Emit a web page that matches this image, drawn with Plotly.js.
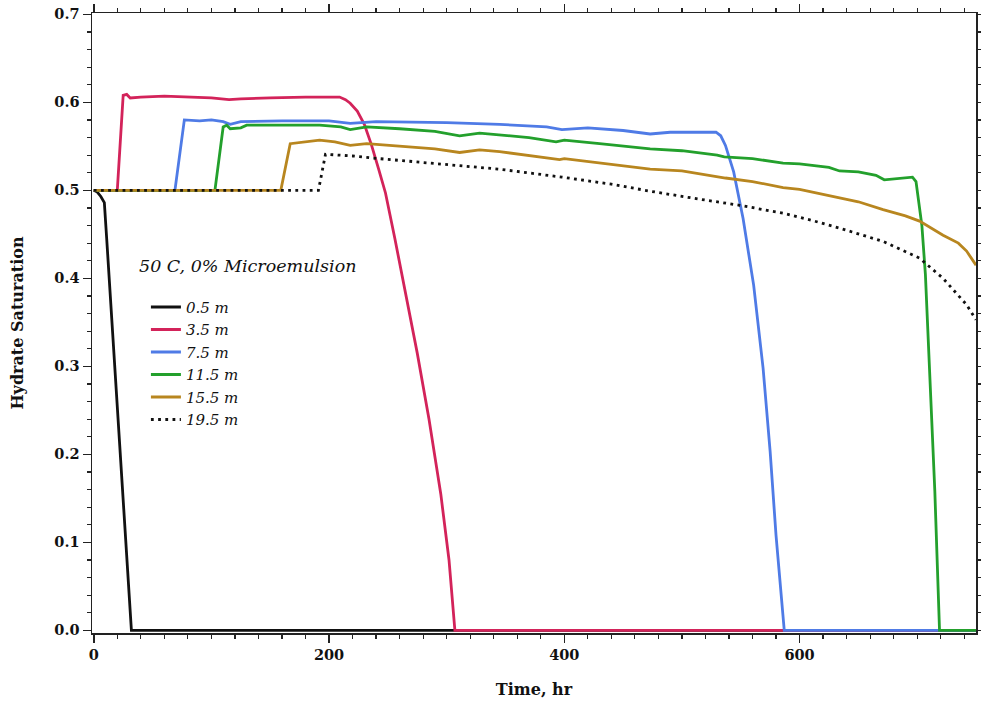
<!DOCTYPE html>
<html>
<head>
<meta charset="utf-8">
<script src="https://cdn.plot.ly/plotly-3.0.1.min.js"></script>
<style>html,body{margin:0;padding:0;background:#fff;}#chart{width:981px;height:704px;}</style>
</head>
<body>
<div id="chart"></div>
<script>
// Series names
const seriesNames = ["0.5 m", "3.5 m", "7.5 m", "11.5 m", "15.5 m", "19.5 m"];
const chartNote = "50 C, 0% Microemulsion";
const xTitle = "Time, hr";
const yTitle = "Hydrate Saturation";
const xTickVals = [0, 200, 400, 600];
const yTickVals = [0.0, 0.1, 0.2, 0.3, 0.4, 0.5, 0.6, 0.7];

// 0.5 m
const t05 = [0, 3, 6, 9, 11, 32, 750];
const s05 = [0.5, 0.498, 0.493, 0.486, 0.445, 0.0, 0.0];

// 3.5 m
const t35 = [0, 20, 25, 28, 31, 40, 60, 80, 100, 115, 125, 150, 180, 209, 214, 218, 224, 230, 236, 242, 248, 256, 265, 275, 285, 295, 302, 307, 750];
const s35 = [0.5, 0.5, 0.608, 0.609, 0.605, 0.606, 0.607, 0.606, 0.605, 0.603, 0.604, 0.605, 0.606, 0.606, 0.603, 0.599, 0.590, 0.575, 0.552, 0.525, 0.497, 0.445, 0.385, 0.315, 0.240, 0.155, 0.080, 0.0, 0.0];

// 7.5 m
const t75 = [0, 69, 77, 90, 100, 110, 116, 125, 160, 200, 218, 240, 300, 345, 385, 398, 420, 450, 473, 490, 515, 529, 533, 537, 544, 552, 561, 569, 575, 580, 587, 750];
const s75 = [0.5, 0.5, 0.580, 0.579, 0.580, 0.578, 0.575, 0.578, 0.579, 0.579, 0.576, 0.578, 0.577, 0.575, 0.572, 0.569, 0.571, 0.568, 0.564, 0.566, 0.566, 0.566, 0.562, 0.551, 0.521, 0.468, 0.392, 0.298, 0.203, 0.108, 0.0, 0.0];

// 11.5 m
const t115 = [0, 103, 110, 113, 116, 125, 130, 160, 192, 210, 218, 232, 260, 290, 311, 328, 345, 370, 393, 400, 430, 462, 473, 500, 530, 536, 560, 586, 600, 625, 634, 650, 665, 672, 685, 696, 699, 701, 704, 707, 711, 715, 719, 750];
const s115 = [0.5, 0.5, 0.572, 0.574, 0.570, 0.571, 0.574, 0.574, 0.574, 0.572, 0.569, 0.572, 0.570, 0.567, 0.562, 0.565, 0.563, 0.560, 0.555, 0.557, 0.553, 0.549, 0.547, 0.545, 0.540, 0.538, 0.536, 0.531, 0.530, 0.526, 0.522, 0.521, 0.517, 0.512, 0.514, 0.515, 0.510, 0.491, 0.460, 0.404, 0.271, 0.158, 0.0, 0.0];

// 15.5 m
const t155 = [0, 159, 167, 180, 192, 205, 218, 232, 260, 290, 311, 328, 345, 370, 396, 400, 430, 462, 473, 500, 537, 560, 586, 600, 634, 650, 671, 690, 702, 722, 735, 742, 750];
const s155 = [0.5, 0.5, 0.553, 0.555, 0.557, 0.555, 0.551, 0.553, 0.550, 0.547, 0.543, 0.546, 0.544, 0.540, 0.535, 0.536, 0.531, 0.526, 0.524, 0.522, 0.514, 0.510, 0.503, 0.501, 0.492, 0.487, 0.478, 0.471, 0.465, 0.449, 0.440, 0.431, 0.415];

// 19.5 m
const t195 = [0, 191, 197, 220, 243, 280, 328, 345, 398, 440, 473, 510, 549, 586, 610, 634, 671, 702, 722, 742, 750];
const s195 = [0.5, 0.5, 0.541, 0.539, 0.536, 0.532, 0.526, 0.524, 0.515, 0.507, 0.499, 0.491, 0.483, 0.474, 0.466, 0.457, 0.442, 0.423, 0.400, 0.370, 0.353];

const allT = [t05, t35, t75, t115, t155, t195];
const allS = [s05, s35, s75, s115, s155, s195];
const colors = ["#111111", "#d3235a", "#4f7be6", "#23a02c", "#b8861f", "#111111"];
const dashes = ["solid", "solid", "solid", "solid", "solid", "2.8px,4.4px"];

const traces = seriesNames.map((name, i) => ({
  x: allT[i], y: allS[i], name: name, type: "scatter", mode: "lines",
  line: {color: colors[i], width: 2.8, dash: dashes[i]}
}));

const serif = "DejaVu Serif";
const axisCommon = {
  showline: true, linecolor: "#222", linewidth: 1.5, mirror: "ticks",
  ticks: "outside", ticklen: 8, tickwidth: 1.5, tickcolor: "#222",
  showgrid: false, zeroline: false,
  tickfont: {family: serif, size: 14.5, color: "#111", weight: "bold"}
};

const layout = {
  width: 981, height: 704,
  margin: {l: 92, r: 5, t: 13, b: 71},
  paper_bgcolor: "#fff", plot_bgcolor: "#fff",
  showlegend: true,
  legend: {x: 0.061, y: 0.552, xanchor: "left", yanchor: "top",
           bgcolor: "rgba(0,0,0,0)", borderwidth: 0,
           font: {family: serif, size: 15, color: "#111", style: "italic"}},
  xaxis: Object.assign({}, axisCommon, {
    range: [-1.5, 750], tickmode: "array", tickvals: xTickVals,
    minor: {dtick: 20, tick0: 0, ticks: "outside", ticklen: 4, tickwidth: 1.2, tickcolor: "#222"},
    title: {text: xTitle, standoff: 22, font: {family: serif, size: 16, color: "#111", weight: "bold"}}
  }),
  yaxis: Object.assign({}, axisCommon, {
    range: [-0.003, 0.7015], tickmode: "array", tickvals: yTickVals, tickformat: ".1f",
    minor: {dtick: 0.02, tick0: 0, ticks: "outside", ticklen: 4, tickwidth: 1.2, tickcolor: "#222"},
    title: {text: yTitle, standoff: 27, font: {family: serif, size: 16, color: "#111", weight: "bold"}}
  }),
  annotations: [{
    xref: "paper", yref: "paper", x: 0.051, y: 0.592, xanchor: "left", yanchor: "middle",
    text: chartNote, showarrow: false,
    font: {family: serif, size: 17.5, color: "#111", style: "italic"}
  }]
};

Plotly.newPlot("chart", traces, layout, {displayModeBar: false, staticPlot: true});
</script>
</body>
</html>
